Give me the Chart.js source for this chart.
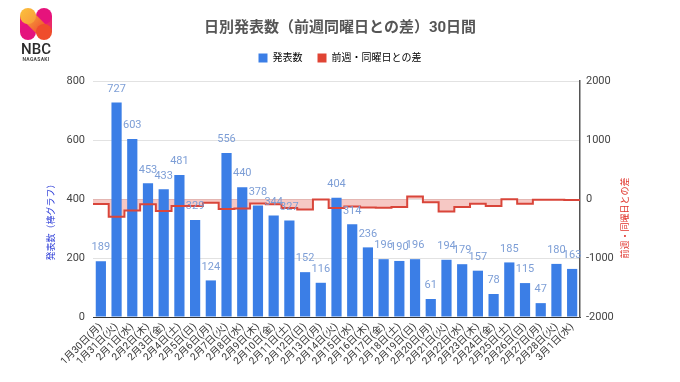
<!DOCTYPE html>
<html><head><meta charset="utf-8">
<script src="https://cdn.jsdelivr.net/npm/chart.js@4.4.0/dist/chart.umd.min.js"></script>
<style>
html,body{margin:0;padding:0;background:#fff;}
#wrap{position:relative;width:680px;height:382px;overflow:hidden;}
#c{position:absolute;left:0;top:0;}
#logo{position:absolute;left:0;top:0;}
</style></head><body>
<div id="wrap">
<canvas id="c" width="680" height="382"></canvas>
<svg id="logo" width="80" height="70" viewBox="0 0 80 70">
  <defs>
    <linearGradient id="gTL" x1="0" y1="0" x2="1" y2="1"><stop offset="0" stop-color="#fcc13c"/><stop offset="1" stop-color="#f79a3a"/></linearGradient>
    <linearGradient id="gD" x1="0" y1="0" x2="1" y2="1"><stop offset="0" stop-color="#f7a03a"/><stop offset="1" stop-color="#ef4b2e"/></linearGradient>
  </defs>
  <rect x="20" y="16" width="16" height="16" fill="#e8157f"/>
  <rect x="36" y="16" width="16" height="16" fill="#ea2a6a"/>
  <circle cx="28" cy="32" r="8" fill="#e4137e"/>
  <circle cx="44" cy="16" r="8" fill="#e6137c"/>
  <line x1="28" y1="16" x2="44" y2="32" stroke="url(#gD)" stroke-width="13" stroke-linecap="round"/>
  <circle cx="28" cy="16" r="8" fill="url(#gTL)"/>
  <circle cx="44" cy="32" r="8" fill="#ef4d2c"/>
  <text x="36" y="54" text-anchor="middle" font-family="Roboto, Arial, sans-serif" font-size="15" font-weight="500" fill="#2b2b2b">NBC</text>
  <text x="36" y="61" text-anchor="middle" font-family="Roboto, Arial, sans-serif" font-size="5" font-weight="700" fill="#444" letter-spacing="0.3">NAGASAKI</text>
</svg>
</div>
<script>
// ---- data ----
const labels = ["1月30日(月)","1月31日(火)","2月1日(水)","2月2日(木)","2月3日(金)","2月4日(土)","2月5日(日)",
"2月6日(月)","2月7日(火)","2月8日(水)","2月9日(木)","2月10日(金)","2月11日(土)","2月12日(日)",
"2月13日(月)","2月14日(火)","2月15日(水)","2月16日(木)","2月17日(金)","2月18日(土)","2月19日(日)",
"2月20日(月)","2月21日(火)","2月22日(水)","2月23日(木)","2月24日(金)","2月25日(土)","2月26日(日)",
"2月27日(月)","2月28日(火)","3月1日(水)"];
const counts = [189,727,603,453,433,481,329,124,556,440,378,344,327,152,116,404,314,236,196,190,196,61,194,179,157,78,185,115,47,180,163];
const diffs = [-85,-300,-195,-90,-205,-120,-120,-65,-171,-163,-75,-89,-154,-177,-8,-152,-126,-142,-148,-137,44,-55,-210,-135,-79,-118,-5,-81,-14,-14,-16];
const leftTicks = [0,200,400,600,800];
const rightTicks = [-2000,-1000,0,1000,2000];
const titleText = "日別発表数（前週同曜日との差）30日間";
const seriesNames = ["発表数","前週・同曜日との差"];
const leftAxisTitle = "発表数（棒グラフ）";
const rightAxisTitle = "前週・同曜日との差";

const FONT = "Roboto, 'Noto Sans CJK JP', sans-serif";
const BLUE = '#3b7ee6';
const RED = '#d9453a';

// stepped points spanning each category band
const stepPts = diffs.map((v,i)=>({x:i-0.5,y:v}));
stepPts.push({x:diffs.length-0.5,y:diffs[diffs.length-1]});

const barLabels = {
  id:'barLabels',
  afterDatasetsDraw(chart){
    const ctx=chart.ctx; const meta=chart.getDatasetMeta(0);
    ctx.save();
    ctx.font = "11px " + FONT; ctx.fillStyle='#7d9ed6';
    ctx.textAlign='center'; ctx.textBaseline='bottom';
    meta.data.forEach((el,i)=>{ ctx.fillText(String(counts[i]), el.x, el.y-8); });
    ctx.restore();
  }
};
const axisTitles = {
  id:'axisTitles',
  afterDraw(chart){
    const ctx=chart.ctx;
    ctx.save();
    ctx.font = "9px " + FONT; ctx.textAlign='center'; ctx.textBaseline='middle';
    ctx.translate(52,220); ctx.rotate(-Math.PI/2); ctx.fillStyle='#2f3fd8';
    ctx.fillText(leftAxisTitle,0,0);
    ctx.restore();
    ctx.save();
    ctx.font = "9px " + FONT; ctx.textAlign='center'; ctx.textBaseline='middle';
    ctx.translate(626,218); ctx.rotate(-Math.PI/2); ctx.fillStyle='#e0342c';
    ctx.fillText(rightAxisTitle,0,0);
    ctx.restore();
  }
};
const legendSpace = {
  id:'legendSpace',
  beforeInit(chart){
    const orig = chart.legend.fit;
    chart.legend.fit = function(){ orig.bind(chart.legend)(); this.height += 8; };
  }
};

new Chart(document.getElementById('c'), {
  data:{
    labels: labels,
    datasets:[
      {type:'bar', label:seriesNames[0], data:counts, backgroundColor:BLUE, borderWidth:0, grouped:false,
       categoryPercentage:0.65, barPercentage:1.0, yAxisID:'y', xAxisID:'x', order:2},
      {type:'line', label:seriesNames[1], data:stepPts, stepped:'before', borderColor:RED, borderWidth:2,
       backgroundColor:'rgba(232,110,100,0.38)', fill:'origin', pointRadius:0, yAxisID:'y1', xAxisID:'x2', order:1}
    ]
  },
  options:{
    responsive:false, animation:false,
    layout:{padding:{left:0,right:0,top:0,bottom:0}},
    plugins:{
      title:{display:true, text:titleText, color:'#555', font:{family:FONT,size:15,weight:'bold'}, padding:{top:19,bottom:1}},
      legend:{display:true, position:'top',
        labels:{boxWidth:9, boxHeight:9, font:{family:FONT,size:10}, color:'#333', padding:15,
          generateLabels:(chart)=>[
            {text:seriesNames[0], fillStyle:BLUE, strokeStyle:BLUE, lineWidth:0, datasetIndex:0},
            {text:seriesNames[1], fillStyle:'#e04434', strokeStyle:'#e04434', lineWidth:0, datasetIndex:1}
          ]}},
      tooltip:{enabled:false},
      filler:{drawTime:'beforeDatasetsDraw'}
    },
    scales:{
      x:{type:'category', offset:true, grid:{display:false, drawTicks:false}, border:{display:true,color:'#333',width:1},
         ticks:{font:{family:FONT,size:10}, color:'#333', maxRotation:45, minRotation:45, autoSkip:false, padding:4},
         afterFit:(s)=>{s.height=65;}},
      x2:{type:'linear', min:-0.5, max:labels.length-0.5, display:false},
      y:{position:'left', min:leftTicks[0], max:leftTicks[leftTicks.length-1],
         afterBuildTicks:(s)=>{s.ticks=leftTicks.map(v=>({value:v}));},
         grid:{color:'#e2e2e2', drawTicks:false}, border:{display:false},
         ticks:{font:{family:FONT,size:11}, color:'#444', padding:8, callback:(v)=>String(v)},
         afterFit:(s)=>{s.width=93;}},
      y1:{position:'right', min:rightTicks[0], max:rightTicks[rightTicks.length-1],
         afterBuildTicks:(s)=>{s.ticks=rightTicks.map(v=>({value:v}));},
         grid:{display:false, drawTicks:false}, border:{display:true,color:'#555',width:1.5},
         ticks:{font:{family:FONT,size:11}, color:'#444', padding:6, callback:(v)=>String(v)},
         afterFit:(s)=>{s.width=100;}}
    }
  },
  plugins:[barLabels, axisTitles, legendSpace]
});
</script>
</body></html>
